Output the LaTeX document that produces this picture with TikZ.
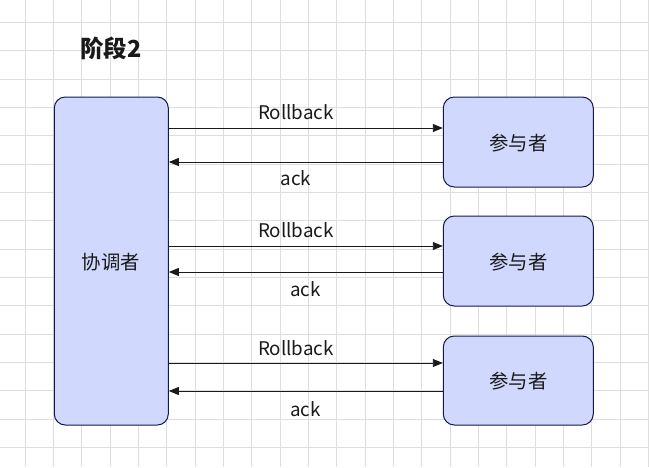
\documentclass[tikz,border=0pt]{standalone}
\usepackage{fontspec}
\setmainfont{Noto Sans CJK SC}
\usetikzlibrary{arrows.meta}
\definecolor{gridc}{HTML}{DEDEDE}
\definecolor{boxfill}{HTML}{D0D9FD}
\definecolor{boxline}{HTML}{141850}
\definecolor{linec}{HTML}{1A1A1A}
\tikzset{
  box/.style={draw=boxline, fill=boxfill, line width=1pt, rounded corners=11pt, inner sep=0pt},
  arr/.style={draw=linec, line width=0.9pt, -{Triangle[length=10pt,width=8pt]}},
  lbl/.style={font=\fontsize{18.8}{22}\selectfont, text=linec, inner sep=0pt},
  cjk/.style={font=\fontsize{19.4}{22}\selectfont, text=linec, inner sep=0pt},
}
\begin{document}
\begin{tikzpicture}[x=1pt,y=-1pt]
\fill[white] (0,0) rectangle (649,467);
\useasboundingbox (0,0) rectangle (649,467);
\foreach \i in {0,...,22} {
  \draw[gridc, line width=0.8pt] ({25+28.333*\i},0) -- ({25+28.333*\i},467);
}
\foreach \i in {0,...,16} {
  \draw[gridc, line width=0.8pt] (0,{22.3+28.333*\i}) -- (649,{22.3+28.333*\i});
}
\node[font=\fontsize{23.5}{26}\selectfont\bfseries, text=linec, inner sep=0pt] (title) at (111,48) {阶段2};
\node[box, minimum width=114pt, minimum height=328pt] (c) at (111.3,261) {};
\node[cjk] (ct) at (111,262.5) {协调者};
\node[box, minimum width=150pt, minimum height=90pt] (p1) at (518.3,142) {};
\node[box, minimum width=150pt, minimum height=90pt] (p2) at (518.3,261) {};
\node[box, minimum width=150pt, minimum height=89pt] (p3) at (518.3,380.5) {};
\node[cjk] (t1) at (518.3,143) {参与者};
\node[cjk] (t2) at (518.3,262) {参与者};
\node[cjk] (t3) at (518.3,381.5) {参与者};
\coordinate (r1) at (0,128);
\coordinate (a1) at (0,162);
\coordinate (r2) at (0,246);
\coordinate (a2) at (0,272);
\coordinate (r3) at (0,363);
\coordinate (a3) at (0,391);
\draw[arr] (c.east |- r1) -- (p1.west |- r1);
\draw[arr] (p1.west |- a1) -- (c.east |- a1);
\draw[arr] (c.east |- r2) -- (p2.west |- r2);
\draw[arr] (p2.west |- a2) -- (c.east |- a2);
\draw[arr] (c.east |- r3) -- (p3.west |- r3);
\draw[arr] (p3.west |- a3) -- (c.east |- a3);
\node[lbl] (lr1) at (296,112) {Rollback};
\node[lbl] (la1) at (296,178) {ack};
\node[lbl] (lr2) at (296,230) {Rollback};
\node[lbl] (la2) at (305.5,289) {ack};
\node[lbl] (lr3) at (296,348) {Rollback};
\node[lbl] (la3) at (305.5,409) {ack};
\end{tikzpicture}
\end{document}
